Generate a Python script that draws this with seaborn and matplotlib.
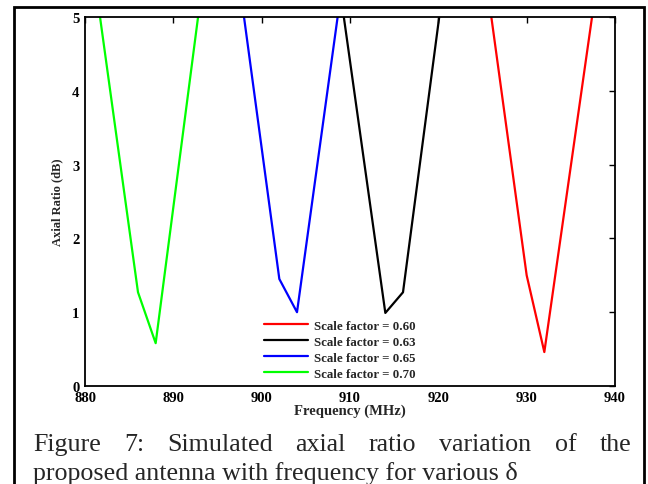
import matplotlib
matplotlib.use("Agg")
import matplotlib.pyplot as plt
import seaborn as sns
import pandas as pd
from matplotlib.patches import Rectangle

# Data
freq_060 = [926.0, 930.0, 932.0, 937.4]
ar_060 = [5.0, 1.5, 0.46, 5.0]
freq_063 = [909.3, 914.0, 916.0, 920.1]
ar_063 = [5.0, 0.99, 1.27, 5.0]
freq_065 = [898.0, 902.0, 904.0, 908.6]
ar_065 = [5.0, 1.45, 1.0, 5.0]
freq_070 = [881.7, 886.0, 888.0, 892.8]
ar_070 = [5.0, 1.27, 0.58, 5.0]

labels = ["Scale factor = 0.60", "Scale factor = 0.63",
          "Scale factor = 0.65", "Scale factor = 0.70"]
colors = ["#ff0000", "#000000", "#0000ff", "#00ff00"]
xticks = [880, 890, 900, 910, 920, 930, 940]
yticks = [0, 1, 2, 3, 4, 5]

frames = []
for lab, f, a in zip(labels, [freq_060, freq_063, freq_065, freq_070],
                     [ar_060, ar_063, ar_065, ar_070]):
    frames.append(pd.DataFrame({"freq": f, "ar": a, "series": lab}))
df = pd.concat(frames, ignore_index=True)

sns.set_style("white")
plt.rcParams["font.family"] = ["Liberation Serif", "DejaVu Serif"]

fig = plt.figure(figsize=(6.48, 4.85), dpi=100)
ax = fig.add_axes([85 / 648, 1 - 387 / 485, (615 - 85) / 648, (387 - 18) / 485])

sns.lineplot(data=df, x="freq", y="ar", hue="series", hue_order=labels,
             palette=colors, sort=False, estimator=None, linewidth=1.6, ax=ax)

ax.set_xlim(880, 940)
ax.set_ylim(0, 5)
ax.set_xticks(xticks)
ax.set_yticks(yticks)
ax.set_xticklabels([str(t) for t in xticks], fontsize=10.5, fontweight="bold")
ax.set_yticklabels([str(t) for t in yticks], fontsize=10.5, fontweight="bold")
ax.tick_params(direction="in", top=True, right=True, length=4, width=1,
               colors="black")
ax.tick_params(axis="x", pad=3.5)
ax.tick_params(axis="y", pad=4)
for s in ax.spines.values():
    s.set_visible(True)
    s.set_color("black")
    s.set_linewidth(1.3)

ax.set_xlabel("Frequency (MHz)", fontsize=10.5, fontweight="bold", labelpad=0)
ax.set_ylabel("Axial Ratio (dB)", fontsize=9, fontweight="bold", labelpad=6)

leg = ax.legend(loc="lower left", bbox_to_anchor=(0.318, -0.011), frameon=False,
                prop={"size": 9.3, "weight": "bold"}, handlelength=3.4,
                handletextpad=0.5, labelspacing=0.3, borderpad=0.3)
for line in leg.get_lines():
    line.set_linewidth(1.6)

# Outer border
fig.patches.append(Rectangle((14 / 648, -0.05), (644 - 14) / 648, 1.05 - 8 / 485,
                             transform=fig.transFigure, fill=False,
                             edgecolor="black", linewidth=2, clip_on=False))

# Caption, first line justified
cap_font = dict(fontsize=18.7, family=["Liberation Serif", "DejaVu Serif"])
words = "Figure 7: Simulated axial ratio variation of the".split()
x0, x1 = 33 / 648, 631 / 648
y1 = 1 - 451 / 485
y2 = 1 - 480 / 485
texts = [fig.text(0, y1, w, va="baseline", ha="left", **cap_font) for w in words]
renderer = fig.canvas.get_renderer()
widths = [t.get_window_extent(renderer).width / fig.bbox.width for t in texts]
gap = ((x1 - x0) - sum(widths)) / (len(words) - 1)
pos = x0
for t, w in zip(texts, widths):
    t.set_x(pos)
    pos += w + gap
fig.text(x0, y2, "proposed antenna with frequency for various δ",
         va="baseline", ha="left", **cap_font)

fig.savefig("out.png", dpi=100)
